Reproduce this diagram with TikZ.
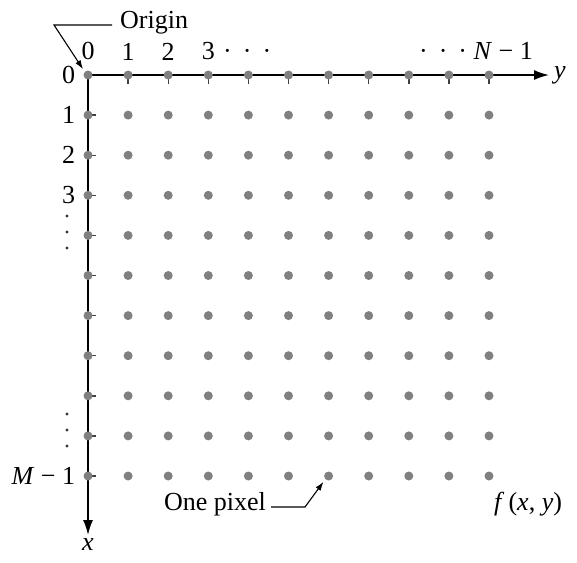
\documentclass[tikz,border=0pt]{standalone}
\usepackage{fontspec}
\setmainfont{Liberation Serif}
\usetikzlibrary{arrows.meta,positioning}
\newcommand{\cdotgap}{\hspace{4.5pt}}

\begin{document}
\begin{tikzpicture}[
  x=1pt, y=-1pt,
  >={Latex[length=15pt,width=10pt]},
  pix/.style={circle, fill=gray, inner sep=0pt, minimum size=9pt},
  lbl/.style={font=\fontsize{26}{29}\selectfont, inner sep=1pt},
  vdot/.style={circle, fill=black!80, inner sep=0pt, minimum size=3.2pt},
  ax/.style={->, line width=1.6pt},
  tick/.style={line width=1.4pt, black!75},
  lead/.style={line width=1.1pt, -{Latex[length=9pt,width=6pt]}}
]
\useasboundingbox (0,0) rectangle (577,562);

% Pixel grid: row i goes down the x axis, column j goes along the y axis.
\foreach \i in {0,...,10}
  \foreach \j in {0,...,10}
    \coordinate (c-\i-\j) at ({88+40.1*\j},{75+40.1*\i});

% Axes with their end points.
\coordinate (yend) at (549,75);
\coordinate (xend) at (88,535);
\draw[ax] (c-0-0) -- (yend);
\draw[ax] (c-0-0) -- (xend);
\node[lbl, right=4pt of yend] (ylab) {\textit{y}};
\node[lbl, below=2pt of xend] (xlab) {\textit{x}};

% Small ticks under the top row and right of the left column.
\foreach \j in {1,...,10}
  \draw[tick] (c-0-\j) -- ++(0,9);
\foreach \i in {1,...,10}
  \draw[tick] (c-\i-0) -- ++(8,0);

\foreach \i in {0,...,10}
  \foreach \j in {0,...,10}
    \node[pix] (p-\i-\j) at (c-\i-\j) {};

% Column and row numbers.
\foreach \j in {0,...,3}
  \node[lbl, above=9pt of p-0-\j] (col-\j) {\j};
\node[lbl, anchor=base west, inner sep=0pt] (cdots) at ([xshift=7pt]col-3.base east) {·\cdotgap{} ·\cdotgap{} ·};
\node[lbl, anchor=base east, inner sep=0pt] (colN) at (col-3.base -| 533,0) {·\cdotgap{} ·\cdotgap{} · \textit{N} − 1};

\foreach \i in {0,...,3}
  \node[lbl, left=7pt of p-\i-0] (row-\i) {\i};
\node[lbl, left=7pt of p-10-0] (rowM) {\textit{M} − 1};
% vertical ellipses down the left margin
\foreach \y [count=\k] in {216,232,248}
  \node[vdot] (vd-a\k) at (67,\y) {};
\foreach \y [count=\k] in {414,430,446}
  \node[vdot] (vd-b\k) at (67,\y) {};

% Origin pointer.
\node[lbl, anchor=west] (orig) at (119,23) {Origin};
\coordinate (oknee) at (54,25);
\draw[lead, shorten <=7pt, shorten >=3pt] (orig.west |- oknee) -- (oknee) -- (p-0-0.north west);

% One-pixel pointer.
\node[lbl] (onepx) at (215,504) {One pixel};
\coordinate (pknee) at (305,507);
\draw[lead, shorten <=4pt, shorten >=3pt] (onepx.east |- pknee) -- (pknee) -- (p-10-6.south west);

\node[lbl] (fxy) at (528,504) {\textit{f}\,(\textit{x}, \textit{y})};

\end{tikzpicture}
\end{document}
